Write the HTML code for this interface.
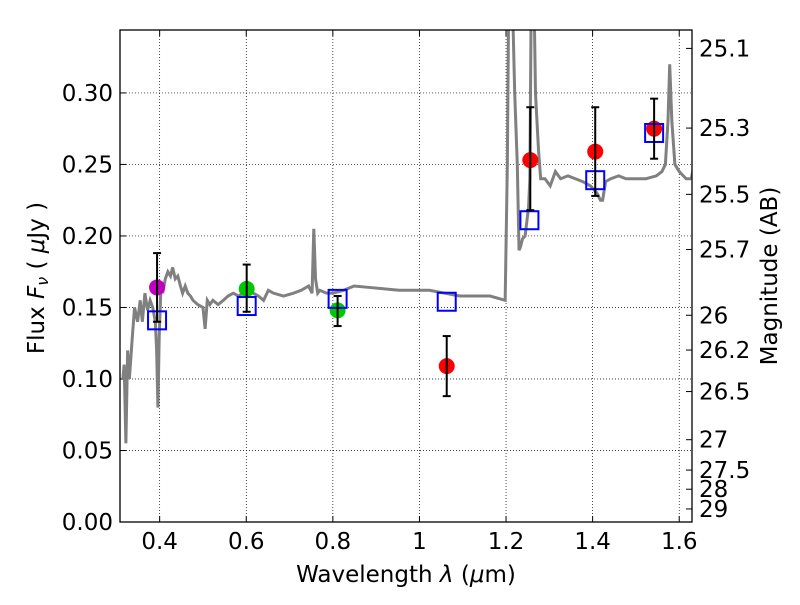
<!DOCTYPE html>
<html><head><meta charset="utf-8"><style>
body{margin:0;background:#fff;}
svg text{font-family:"DejaVu Sans","Liberation Sans",sans-serif;}
</style></head><body>
<svg id="c" width="800" height="600" xmlns="http://www.w3.org/2000/svg"></svg>
<script>
const specLam=[0.315,0.318,0.322,0.326,0.33,0.337,0.342,0.349,0.355,0.36,0.366,0.372,0.378,0.384,0.39,0.393,0.396,0.399,0.403,0.407,0.413,0.419,0.425,0.43,0.436,0.442,0.448,0.453,0.459,0.465,0.471,0.477,0.488,0.5,0.505,0.51,0.516,0.523,0.535,0.547,0.558,0.57,0.582,0.593,0.605,0.616,0.628,0.64,0.651,0.663,0.686,0.709,0.727,0.744,0.752,0.756,0.76,0.765,0.77,0.785,0.8,0.825,0.849,0.884,0.919,0.953,0.988,1.023,1.058,1.093,1.128,1.163,1.198,1.203,1.207,1.212,1.22,1.226,1.23,1.233,1.238,1.244,1.248,1.252,1.255,1.259,1.263,1.268,1.275,1.28,1.29,1.302,1.314,1.326,1.343,1.36,1.377,1.395,1.41,1.418,1.423,1.43,1.442,1.46,1.477,1.5,1.523,1.547,1.56,1.568,1.574,1.578,1.583,1.59,1.6,1.616,1.628,1.64];
const specFlux=[0.10,0.11,0.055,0.12,0.10,0.13,0.15,0.14,0.155,0.14,0.16,0.148,0.155,0.15,0.14,0.12,0.08,0.13,0.165,0.16,0.17,0.175,0.172,0.178,0.17,0.172,0.165,0.16,0.165,0.16,0.158,0.155,0.152,0.15,0.135,0.155,0.152,0.155,0.152,0.155,0.158,0.16,0.158,0.16,0.162,0.16,0.158,0.155,0.162,0.16,0.158,0.16,0.162,0.165,0.16,0.205,0.17,0.16,0.162,0.16,0.16,0.162,0.165,0.164,0.163,0.162,0.162,0.162,0.16,0.158,0.158,0.158,0.155,0.25,0.4,0.4,0.3,0.25,0.19,0.192,0.198,0.2,0.21,0.22,0.24,0.4,0.4,0.3,0.26,0.24,0.24,0.235,0.245,0.24,0.242,0.24,0.238,0.235,0.23,0.225,0.225,0.238,0.24,0.242,0.24,0.24,0.24,0.242,0.245,0.25,0.28,0.32,0.28,0.25,0.245,0.24,0.24,0.26];
const ptLam=[0.394,0.601,0.811,1.063,1.256,1.406,1.542];
const ptFlux=[0.164,0.163,0.148,0.109,0.253,0.259,0.275];
const ptErrLo=[0.140,0.147,0.137,0.088,0.218,0.228,0.254];
const ptErrHi=[0.188,0.180,0.158,0.130,0.290,0.290,0.296];
const ptColor=["#bf00bf","#00c800","#00c800","#ff0000","#ff0000","#ff0000","#ff0000"];
const modLam=[0.394,0.601,0.811,1.063,1.254,1.406,1.542];
const modFlux=[0.141,0.151,0.156,0.154,0.211,0.239,0.272];
const xTicks=[0.4,0.6,0.8,1.0,1.2,1.4,1.6];
const xLabels=["0.4","0.6","0.8","1","1.2","1.4","1.6"];
const yTicks=[0,0.05,0.10,0.15,0.20,0.25,0.30];
const yLabels=["0.00","0.05","0.10","0.15","0.20","0.25","0.30"];
const magTicks=[25.1,25.3,25.5,25.7,26,26.2,26.5,27,27.5,28,29];

const L=120,R=692,T=30,B=522;
const XMIN=0.3084,XMAX=1.6295,YMIN=0,YMAX=0.344;
const sx=v=>L+(v-XMIN)/(XMAX-XMIN)*(R-L);
const sy=v=>B-(v-YMIN)/(YMAX-YMIN)*(B-T);
const svg=document.getElementById('c');
const NS="http://www.w3.org/2000/svg";
function mk(tag,attrs,parent){const e=document.createElementNS(NS,tag);for(const k in attrs)e.setAttribute(k,attrs[k]);(parent||svg).appendChild(e);return e;}

const clip=mk('clipPath',{id:'pc'});mk('rect',{x:L,y:T,width:R-L,height:B-T},clip);
xTicks.forEach((t,i)=>{const g=mk('line',{x1:sx(t),x2:sx(t),y1:T,y2:B,stroke:'#000','stroke-width':0.7,'stroke-dasharray':'1,2'});


mk('line',{x1:sx(t),x2:sx(t),y1:B,y2:B-6,stroke:'#000'});mk('line',{x1:sx(t),x2:sx(t),y1:T,y2:T+6,stroke:'#000'});
const tx=mk('text',{x:sx(t),y:B+27,'font-size':23,'text-anchor':'middle'});tx.textContent=xLabels[i];

});
yTicks.forEach((t,i)=>{const g=mk('line',{x1:L,x2:R,y1:sy(t),y2:sy(t),stroke:'#000','stroke-width':0.7,'stroke-dasharray':'1,2'});


mk('line',{x1:L,x2:L+6,y1:sy(t),y2:sy(t),stroke:'#000'});
const tx=mk('text',{x:L-7,y:sy(t)+8,'font-size':23,'text-anchor':'end'});tx.textContent=yLabels[i];

});
magTicks.forEach(m=>{const f=Math.pow(10,(23.9-m)/2.5);const y=sy(f);
mk('line',{x1:R,x2:R-6,y1:y,y2:y,stroke:'#000'});
const tx=mk('text',{x:R+7,y:y+8,'font-size':23});tx.textContent=String(m);

});
const sp=mk('polyline',{points:specLam.map((l,i)=>sx(l)+','+sy(specFlux[i])).join(' '),fill:'none',stroke:'#808080','stroke-width':3,'clip-path':'url(#pc)'});


ptLam.forEach((l,i)=>{const x=sx(l);
const c=mk('circle',{cx:x,cy:sy(ptFlux[i]),r:8,fill:ptColor[i]});

});
modLam.forEach((l,i)=>{const r=mk('rect',{x:sx(l)-9,y:sy(modFlux[i])-9,width:18,height:18,fill:'none',stroke:'#0000ff','stroke-width':2});

});
ptLam.forEach((l,i)=>{const x=sx(l);const g=mk('g',{stroke:'#000','stroke-width':2});


mk('line',{x1:x,x2:x,y1:sy(ptErrLo[i]),y2:sy(ptErrHi[i])},g);
mk('line',{x1:x-4,x2:x+4,y1:sy(ptErrLo[i]),y2:sy(ptErrLo[i])},g);
mk('line',{x1:x-4,x2:x+4,y1:sy(ptErrHi[i]),y2:sy(ptErrHi[i])},g);});
const fr=mk('rect',{x:L,y:T,width:R-L,height:B-T,fill:'none',stroke:'#000','stroke-width':1.3});


</script>
<svg width="800" height="600" style="position:absolute;left:0;top:0" xmlns="http://www.w3.org/2000/svg">
<text x="406" y="582" font-size="23" text-anchor="middle">Wavelength  <tspan font-style="italic">λ</tspan> (<tspan font-style="italic">μ</tspan>m)</text>
<text transform="translate(44,278) rotate(-90)" font-size="23" text-anchor="middle">Flux  <tspan font-style="italic">F</tspan><tspan font-style="italic" font-size="16" dy="4">ν</tspan><tspan dy="-4">  (  </tspan><tspan font-style="italic">μ</tspan>Jy )</text>
<text transform="translate(777,276) rotate(-90)" font-size="23" text-anchor="middle">Magnitude (AB)</text>
</svg>
</body></html>
